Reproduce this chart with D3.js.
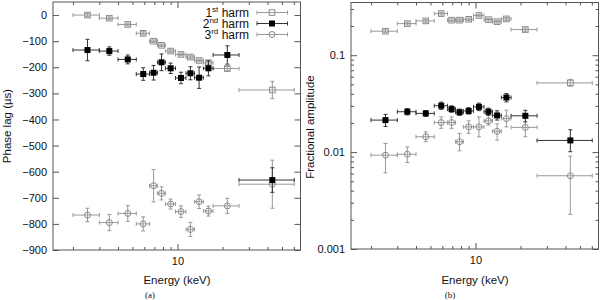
<!DOCTYPE html>
<html lang="en">
<head>
  <meta charset="UTF-8">
  <script src="https://d3js.org/d3.v7.min.js"></script>
  <title>Phase lag and fractional amplitude vs energy</title>
  <style>
    body {
      margin: 0;
      background-color: white;
      font-family: "Liberation Sans", Arial, sans-serif;
    }
  </style>
</head>
<body>
  <svg id="chart" width="600" height="300"></svg>

<script>
  // energy bins (keV)
  const eLo  = [2.0, 3.0, 4.0, 5.3, 6.5, 7.35, 8.3, 9.7, 11.4, 13.0, 14.9, 17.3, 25.8];
  const eHi  = [3.0, 4.0, 5.3, 6.5, 7.35, 8.3, 9.7, 11.4, 13.0, 14.9, 17.3, 25.8, 60.4];
  const eMid = [2.5, 3.5, 4.65, 5.9, 6.92, 7.82, 9.0, 10.55, 12.2, 13.95, 16.1, 21.55, 43.1];

  // phase lags (us) and 1-sigma errors
  const lag1 = [0, -12, -36, -70, -100, -116, -138, -151, -161, -174, -183, -205, -287];
  const lag1Err = [6, 5, 5, 6, 5, 5, 5, 5, 5, 5, 6, 8, 33];
  const lag2 = [-134, -138, -170, -226, -221, -181, -204, -241, -223, -240, -204, -153, -632];
  const lag2Err = [41, 16, 17, 24, 28, 32, 20, 22, 25, 41, 29, 35, 47];
  const lag3 = [-766, -795, -760, -800, -654, -683, -724, -753, -821, -715, -751, -731, -648];
  const lag3Err = [26, 31, 30, 27, 62, 25, 19, 22, 27, 26, 19, 29, 92];

  // fractional amplitudes with lower / upper error limits
  const amp1   = [0.177, 0.212, 0.226, 0.269, 0.230, 0.230, 0.235, 0.257, 0.233, 0.222, 0.237, 0.184, 0.0518];
  const amp1Lo = [0.171, 0.205, 0.219, 0.260, 0.223, 0.223, 0.228, 0.249, 0.226, 0.215, 0.229, 0.177, 0.0479];
  const amp1Hi = [0.183, 0.219, 0.233, 0.278, 0.237, 0.237, 0.242, 0.265, 0.240, 0.229, 0.245, 0.191, 0.0563];
  const amp2   = [0.0214, 0.0261, 0.0251, 0.0301, 0.0278, 0.0258, 0.0266, 0.0293, 0.0261, 0.0239, 0.0366, 0.0237, 0.0132];
  const amp2Lo = [0.0184, 0.0242, 0.0234, 0.0276, 0.0258, 0.0240, 0.0247, 0.0268, 0.0240, 0.0214, 0.0330, 0.0205, 0.0101];
  const amp2Hi = [0.0245, 0.0281, 0.0268, 0.0328, 0.0300, 0.0278, 0.0287, 0.0320, 0.0284, 0.0267, 0.0402, 0.0270, 0.0170];
  const amp3   = [0.0093, 0.0095, 0.0144, 0.0202, 0.0202, 0.0128, 0.0182, 0.0182, 0.0210, 0.0164, 0.0222, 0.0180, 0.0057];
  const amp3Lo = [0.0061, 0.0078, 0.0128, 0.0176, 0.0176, 0.0103, 0.0156, 0.0144, 0.0190, 0.0133, 0.0182, 0.0144, 0.00228];
  const amp3Hi = [0.0123, 0.0113, 0.0162, 0.0231, 0.0231, 0.0156, 0.0210, 0.0231, 0.0241, 0.0196, 0.0271, 0.0231, 0.0091];

  const lagTicks = [-900, -800, -700, -600, -500, -400, -300, -200, -100, 0];
  const ampTicks = [0.001, 0.01, 0.1];
  const energyTicks = [10];
  const harmNames = [["1", "st"], ["2", "nd"], ["3", "rd"]];

  const svg = d3.select('#chart');
  const frameColor = '#555';
  const grey = '#8a8a8a';

  // shared energy axis
  const eDomain = [1.47, 66.5];

  function drawFrame(g, x, y, yMajor, yFormat) {
    let [x0, x1] = x.range();
    let [y0, y1] = y.range();

    // minor x ticks, bottom and top
    let xMinor = x.ticks().filter(d => !energyTicks.includes(d));
    g.append("g").attr("transform", `translate(0,${y0})`)
      .call(d3.axisBottom(x).tickValues(xMinor).tickSize(-3).tickFormat(""));
    g.append("g").attr("transform", `translate(0,${y1})`)
      .call(d3.axisTop(x).tickValues(xMinor).tickSize(-3).tickFormat(""));
    g.append("g").attr("transform", `translate(0,${y0})`)
      .call(d3.axisBottom(x).tickValues(energyTicks).tickSize(-6).tickPadding(7).tickFormat(d3.format("d")));
    g.append("g").attr("transform", `translate(0,${y1})`)
      .call(d3.axisTop(x).tickValues(energyTicks).tickSize(-6).tickFormat(""));

    if (y.base) {
      let yMinor = y.ticks().filter(d => !yMajor.includes(d));
      g.append("g").attr("transform", `translate(${x0},0)`)
        .call(d3.axisLeft(y).tickValues(yMinor).tickSize(-3).tickFormat(""));
      g.append("g").attr("transform", `translate(${x1},0)`)
        .call(d3.axisRight(y).tickValues(yMinor).tickSize(-3).tickFormat(""));
    }
    g.append("g").attr("transform", `translate(${x0},0)`)
      .call(d3.axisLeft(y).tickValues(yMajor).tickSize(-6).tickPadding(6).tickFormat(yFormat));
    g.append("g").attr("transform", `translate(${x1},0)`)
      .call(d3.axisRight(y).tickValues(yMajor).tickSize(-6).tickFormat(""));

    g.selectAll(".domain").remove();
    g.selectAll(".tick line").attr("stroke", frameColor);
    g.selectAll(".tick text")
      .attr("font-family", "Liberation Sans, Arial, sans-serif")
      .attr("font-size", 11).attr("fill", "#111");

    g.append("rect")
      .attr("x", x0).attr("y", y1)
      .attr("width", x1 - x0).attr("height", y0 - y1)
      .attr("fill", "none").attr("stroke", frameColor).attr("stroke-width", 1);
  }

  function errorBars(g, x, y, vals, lo, hi, color) {
    let cap = 2;
    let bars = g.append("g").attr("stroke", color).attr("stroke-width", 1).attr("fill", "none");
    vals.forEach((v, i) => {
      let cy = y(v), cx = x(eMid[i]);
      let xa = x(eLo[i]), xb = x(eHi[i]);
      let ya = y(lo[i]), yb = y(hi[i]);
      bars.append("line").attr("x1", xa).attr("x2", xb).attr("y1", cy).attr("y2", cy);
      bars.append("line").attr("x1", xa).attr("x2", xa).attr("y1", cy - cap).attr("y2", cy + cap);
      bars.append("line").attr("x1", xb).attr("x2", xb).attr("y1", cy - cap).attr("y2", cy + cap);
      bars.append("line").attr("x1", cx).attr("x2", cx).attr("y1", ya).attr("y2", yb);
      bars.append("line").attr("x1", cx - cap).attr("x2", cx + cap).attr("y1", ya).attr("y2", ya);
      bars.append("line").attr("x1", cx - cap).attr("x2", cx + cap).attr("y1", yb).attr("y2", yb);
    });
  }

  function marker(g, kind, cx, cy) {
    if (kind === 0) {
      g.append("rect").attr("x", cx - 2.8).attr("y", cy - 2.8).attr("width", 5.6).attr("height", 5.6)
        .attr("fill", "none").attr("stroke", grey).attr("stroke-width", 1);
    } else if (kind === 1) {
      g.append("rect").attr("x", cx - 3).attr("y", cy - 3).attr("width", 6).attr("height", 6)
        .attr("fill", "black");
    } else {
      g.append("circle").attr("cx", cx).attr("cy", cy).attr("r", 3)
        .attr("fill", "none").attr("stroke", grey).attr("stroke-width", 1);
    }
  }

  function drawSeries(g, x, y, vals, lo, hi, kind) {
    errorBars(g, x, y, vals, lo, hi, kind === 1 ? '#333' : '#999');
    let m = g.append("g");
    vals.forEach((v, i) => marker(m, kind, x(eMid[i]), y(v)));
  }

  // ---------- (a) phase lag ----------
  let xa = d3.scaleLog().domain(eDomain).range([53, 300.5]);
  let ya = d3.scaleLinear().domain([-900, 50]).range([250, 2]);
  let ga = svg.append("g");
  drawFrame(ga, xa, ya, lagTicks, d3.format("d"));

  let lagSets = [[lag1, lag1Err], [lag2, lag2Err], [lag3, lag3Err]];
  [2, 0, 1].forEach(k => {
    let [v, e] = lagSets[k];
    drawSeries(ga, xa, ya, v, v.map((d, i) => d - e[i]), v.map((d, i) => d + e[i]), k);
  });

  // legend
  let leg = ga.append("g");
  harmNames.forEach((h, k) => {
    let ly = 12.5 + k * 11;
    let t = leg.append("text").attr("x", 249).attr("y", ly + 4.5)
      .attr("text-anchor", "end").attr("font-size", 12).attr("fill", "#111");
    t.append("tspan").text(h[0]);
    t.append("tspan").attr("font-size", 8).attr("dy", -5).text(h[1]);
    t.append("tspan").attr("dy", 5).text(" harm");
    let c = k === 1 ? '#333' : '#999';
    leg.append("line").attr("x1", 257).attr("x2", 287.5).attr("y1", ly).attr("y2", ly).attr("stroke", c);
    leg.append("line").attr("x1", 257).attr("x2", 257).attr("y1", ly - 2).attr("y2", ly + 2).attr("stroke", c);
    leg.append("line").attr("x1", 287.5).attr("x2", 287.5).attr("y1", ly - 2).attr("y2", ly + 2).attr("stroke", c);
    marker(leg, k, 272, ly);
  });

  ga.append("text").attr("transform", "translate(11,126) rotate(-90)")
    .attr("text-anchor", "middle").attr("font-size", 11.5).attr("fill", "#111")
    .text("Phase lag (\u00b5s)");
  ga.append("text").attr("x", 177).attr("y", 284).attr("text-anchor", "middle")
    .attr("font-size", 11.5).attr("fill", "#111").text("Energy (keV)");
  ga.append("text").attr("x", 150).attr("y", 298).attr("text-anchor", "middle")
    .attr("font-family", "Liberation Serif, serif").attr("font-size", 9).attr("fill", "#111").text("(a)");

  // ---------- (b) fractional amplitude ----------
  let xb = d3.scaleLog().domain(eDomain).range([351, 598.5]);
  let yb = d3.scaleLog().domain([0.001, 0.35]).range([249, 2.5]);
  let gb = svg.append("g");
  drawFrame(gb, xb, yb, ampTicks, d => d3.format("")(d));

  let ampSets = [[amp1, amp1Lo, amp1Hi], [amp2, amp2Lo, amp2Hi], [amp3, amp3Lo, amp3Hi]];
  [2, 0, 1].forEach(k => drawSeries(gb, xb, yb, ampSets[k][0], ampSets[k][1], ampSets[k][2], k));

  gb.append("text").attr("transform", "translate(314,127) rotate(-90)")
    .attr("text-anchor", "middle").attr("font-size", 11.5).attr("fill", "#111")
    .text("Fractional amplitude");
  gb.append("text").attr("x", 475).attr("y", 284).attr("text-anchor", "middle")
    .attr("font-size", 11.5).attr("fill", "#111").text("Energy (keV)");
  gb.append("text").attr("x", 450).attr("y", 298).attr("text-anchor", "middle")
    .attr("font-family", "Liberation Serif, serif").attr("font-size", 9).attr("fill", "#111").text("(b)");
</script>
</body>
</html>
